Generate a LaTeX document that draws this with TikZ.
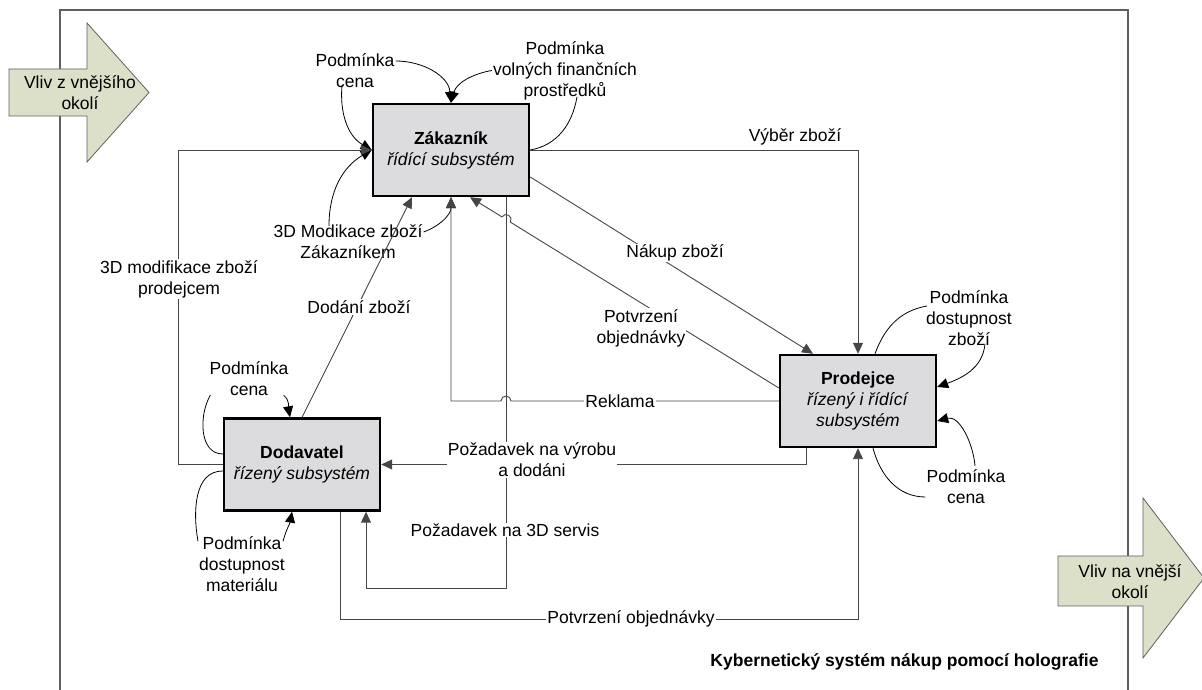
\documentclass[tikz,border=0pt]{standalone}
\usepackage{fontspec}
\setmainfont{Liberation Sans}
\usetikzlibrary{calc,arrows.meta}

\definecolor{boxgray}{RGB}{220,220,222}
\definecolor{arrowfill}{RGB}{221,224,201}
\definecolor{framegray}{RGB}{95,95,95}
\definecolor{linegray}{RGB}{70,70,70}

\tikzset{
  subsys/.style={draw=black, line width=2.4pt, fill=boxgray, minimum width=156pt, minimum height=92pt, align=center, inner sep=1pt},
  flow/.style={draw=linegray, line width=0.9pt},
  flowarr/.style={flow, -{Triangle[length=11pt,width=10pt]}},
  cond/.style={draw=black, line width=0.8pt},
  condarr/.style={cond, -{Triangle[length=11pt,width=10pt]}},
  lbl/.style={fill=white, inner sep=1pt, align=center},
  txt/.style={inner sep=1pt, align=center},
  bigarrow/.style={draw=framegray, fill=arrowfill, line width=0.8pt},
}

\begin{document}
\begin{tikzpicture}[x=1pt, y=1pt, font=\fontsize{17.5}{21}\selectfont]
  % Parameters
\def\jr{5pt}     % jump radius

\useasboundingbox (0,0) rectangle (1202,690);

  % Frame
  \draw[framegray, line width=1.2pt] (60,-2) -- (60,680) -- (1128,680) -- (1128,-2);

  % Outer influences
  \draw[bigarrow] (9,621) -- (87,621) -- (87,667) -- (149,597.5) -- (87,528) -- (87,574) -- (9,574) -- cycle;
  \node[txt] (vlivIn) at (80,597) {Vliv z vnějšího\\okolí};
  \draw[bigarrow] (1058,134) -- (1143,134) -- (1143,192) -- (1204,112) -- (1143,32) -- (1143,84) -- (1058,84) -- cycle;
  \node[txt] (vlivOut) at (1130,108) {Vliv na vnější\\okolí};

  % Subsystems
  \node[subsys] (zak) at (451,540) {\textbf{Zákazník}\\\textit{řídící subsystém}};
  \node[subsys] (prod) at (858,289) {\textbf{Prodejce}\\\textit{řízený i řídící}\\\textit{subsystém}};
  \node[subsys] (dod) at (302,225.5) {\textbf{Dodavatel}\\\textit{řízený subsystém}};

  % Coordinates
 \coordinate (servisR) at (506,102);
 \coordinate (servisL) at (366,102);
 \coordinate (potvL) at (340,71);
 \coordinate (modL) at (178,540);
 \coordinate (potvA) at ($(prod.west)+(0,13)$);
 \coordinate (potvB) at ($(zak.south)+(19,0)$);
 \coordinate (potvJ) at ($(potvA)!0.883!(potvB)$);

  % Conditions
  \node[txt] (pcZ) at (355,619) {Podmínka\\cena};
  \node[txt] (pvf) at (565,619.5) {Podmínka\\volných finančních\\prostředků};
  \node[txt] (modZ) at (348,448) {3D Modikace zboží\\Zákazníkem};
  \node[txt] (pdz) at (969,372) {Podmínka\\dostupnost\\zboží};
  \node[txt] (pcP) at (966,203) {Podmínka\\cena};
  \node[txt] (pcD) at (249,311) {Podmínka\\cena};
  \node[txt] (pdm) at (242,126) {Podmínka\\dostupnost\\materiálu};

  \draw[condarr] ($(pcZ.east)+(0,10)$) to[out=0, in=95] (zak.north);
  \draw[condarr] ($(pcZ.south)+(-13,4)$) to[out=-95, in=150] (zak.west);
  \draw[condarr] (pvf.west) to[out=190, in=75] (zak.north);
  \draw[cond] ($(pvf.south)+(12,4)$) to[out=-100, in=10] (zak.east);
  \draw[condarr] ($(modZ.north)+(-19,-2)$) to[out=90, in=-150] (zak.west);
  \draw[condarr] ($(modZ.east)+(0,10)$) to[out=20, in=-90] (zak.south);
  \draw[cond] ($(pdz.west)+(2,12)$) to[out=190, in=70] ($(prod.north)+(17,0)$);
  \draw[condarr] ($(pdz.south)+(16,3)$) to[out=-95, in=20] ($(prod.east)+(0,14)$);
  \draw[condarr] ($(pcP.north)+(9,3)$) to[out=95, in=15] ($(prod.east)+(0,-20)$);
  \draw[cond] ($(pcP.west)+(0,-10)$) to[out=180, in=-75] ($(prod.south)+(15,0)$);
  \draw[cond] ($(pcD.west)+(2,-16)$) to[out=-120, in=180] ($(dod.west)+(0,10.5)$);
  \draw[condarr] ($(pcD.south east)+(-6,2)$) to[out=-40, in=100] ($(dod.north)+(-12,0)$);
  \draw[cond] ($(pdm.north west)+(0,-6)$) to[out=100, in=180] ($(dod.west)+(0,-6.5)$);
  \draw[condarr] ($(pdm.north east)+(-3,-6)$) to[out=75, in=-100] ($(dod.south)+(-10,0)$);

  % Flows
  \draw[flowarr] (zak.east) -| (prod.north);
  \draw[flowarr] ($(zak.east)+(0,-27)$) -- ($(prod.north)+(-45,0)$);
  \draw[flowarr] (potvA) -- ($(potvJ)!\jr!(potvA)$) arc[start angle=-31.7, delta angle=180, radius=\jr] -- (potvB);
  \draw[flowarr] (zak.south -| servisR) -- (servisR) -- (servisL) -- (dod.south -| servisL);
  \draw[flowarr] (prod.west) -- ($(prod.west -| servisR)+(5,0)$) arc[start angle=0, end angle=180, radius=\jr] -- (zak.south |- prod.west) -- (zak.south);
  \draw[flowarr] ($(prod.south)+(-52,0)$) |- (dod.east);
  \draw[flowarr] (dod.south -| potvL) -- (potvL) -| (prod.south);
  \draw[flowarr] (dod.north) -- ($(zak.south)+(-39,0)$);
  \draw[flowarr] (dod.west) -| (modL) -- (zak.west);

  % Labels
\node[txt] (vyber) at (795,553) {Výběr zboží};
\node[lbl] (nakup) at (675,437) {Nákup zboží};
\node[lbl] (potvrzHi) at (641,362) {Potvrzení\\objednávky};
\node[lbl] (reklama) at (620,289) {Reklama};
\node[lbl] (vyroba) at (532,230) {Požadavek na výrobu\\a dodáni};
\node[lbl] (servis) at (505,160) {Požadavek na 3D servis};
\node[lbl] (potvrzLo) at (631,71) {Potvrzení objednávky};
\node[lbl] (dodani) at (359,383) {Dodání zboží};
\node[lbl] (modProd) at (179,411) {3D modifikace zboží\\prodejcem};

\node[font=\fontsize{17.5}{21}\selectfont\bfseries] (title) at (904.5,28) {Kybernetický systém nákup pomocí holografie};

  \end{tikzpicture}
\end{document}
